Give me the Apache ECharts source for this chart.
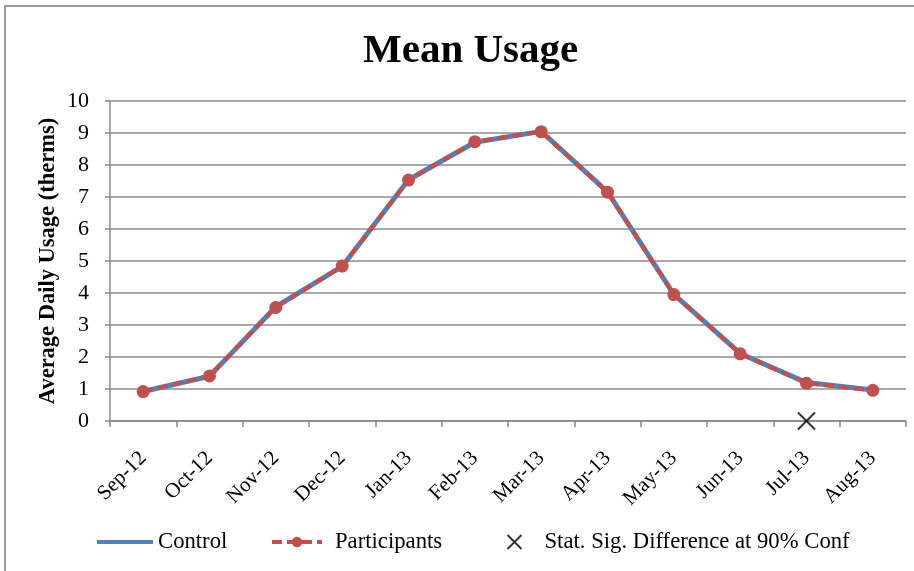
<!DOCTYPE html>
<html><head><meta charset="utf-8">
<script src="https://cdn.jsdelivr.net/npm/echarts@6/dist/echarts.min.js"></script>
<style>html,body{margin:0;padding:0;background:#fff}#c{width:914px;height:571px}</style>
</head><body><div id="c"></div>
<script>
const categories = ['Sep-12','Oct-12','Nov-12','Dec-12','Jan-13','Feb-13','Mar-13','Apr-13','May-13','Jun-13','Jul-13','Aug-13'];
const controlValues = [0.92,1.40,3.57,4.83,7.54,8.71,9.05,7.16,3.96,2.11,1.20,0.97];
const participantValues = [0.92,1.41,3.55,4.84,7.53,8.73,9.04,7.15,3.95,2.10,1.18,0.96];
const sigValues = [null,null,null,null,null,null,null,null,null,null,0,null];
const yTicks = [0,1,2,3,4,5,6,7,8,9,10];
const yAxisTitle = 'Average Daily Usage (therms)';

const serif = 'Liberation Serif';
const legendText = {fontFamily:serif,fontSize:22.7,color:'#000',lineHeight:24};
const chart = echarts.init(document.getElementById('c'));
chart.setOption({
  animation:false,
  backgroundColor:'#fff',
  title:{text:'Mean Usage',left:358,top:26,textStyle:{fontFamily:serif,fontWeight:'bold',fontSize:41,color:'#000'}},
  graphic:[
    {type:'rect',shape:{x:5,y:6,width:950,height:620},style:{fill:'none',stroke:'#9a9a9a',lineWidth:2},silent:true},
    {type:'text',x:48,y:261,rotation:Math.PI/2,silent:true,
      style:{text:yAxisTitle,fontFamily:serif,fontWeight:'bold',fontSize:22.5,fill:'#000',align:'center',verticalAlign:'middle'}}
  ],
  grid:{left:110,right:8,top:101,bottom:150,containLabel:false},
  legend:[
    {data:[{name:'Control',icon:'rect'}],left:97,top:530,padding:0,itemWidth:56,itemHeight:4,
      textStyle:Object.assign({},legendText,{padding:[0,0,0,0]})},
    {data:['Participants'],left:270,top:530,padding:0,itemWidth:50,itemHeight:13,
      lineStyle:{width:4,type:[10,5]},
      textStyle:Object.assign({},legendText,{padding:[0,0,0,8]})},
    {data:['Stat. Sig. Difference at 90% Conf'],left:505,top:530,padding:0,itemWidth:14,itemHeight:14,
      textStyle:Object.assign({},legendText,{padding:[0,0,0,18]})}
  ],
  xAxis:{type:'category',data:categories,boundaryGap:true,
    axisLine:{lineStyle:{color:'#888',width:1.5}},
    axisTick:{show:true,length:6,lineStyle:{color:'#888',width:1.5},alignWithLabel:false},
    axisLabel:{rotate:45,fontFamily:serif,fontSize:21,color:'#000',margin:34,interval:0}},
  yAxis:{type:'value',min:0,max:10,interval:1,
    axisLine:{show:true,lineStyle:{color:'#888',width:1.5}},
    axisTick:{show:true,length:5,lineStyle:{color:'#888',width:1.5}},
    axisLabel:{fontFamily:serif,fontSize:22,color:'#000',margin:21,formatter:v=>yTicks.includes(v)?String(v):''},
    splitLine:{show:true,lineStyle:{color:'#8c8c8c',width:1.5}}},
  series:[
    {name:'Control',type:'line',data:controlValues,symbol:'none',lineStyle:{color:'#4F81BD',width:5},itemStyle:{color:'#4F81BD'},z:2},
    {name:'Participants',type:'line',data:participantValues,symbol:'circle',symbolSize:13,
      lineStyle:{color:'#C0504D',width:4,type:[10,5]},itemStyle:{color:'#C0504D'},z:3},
    {name:'Stat. Sig. Difference at 90% Conf',type:'scatter',data:sigValues,
      symbol:'path://M0,0L10,10M10,0L0,10',symbolSize:17,
      itemStyle:{color:'none',borderColor:'#000',borderWidth:2},z:4}
  ]
});
</script></body></html>
